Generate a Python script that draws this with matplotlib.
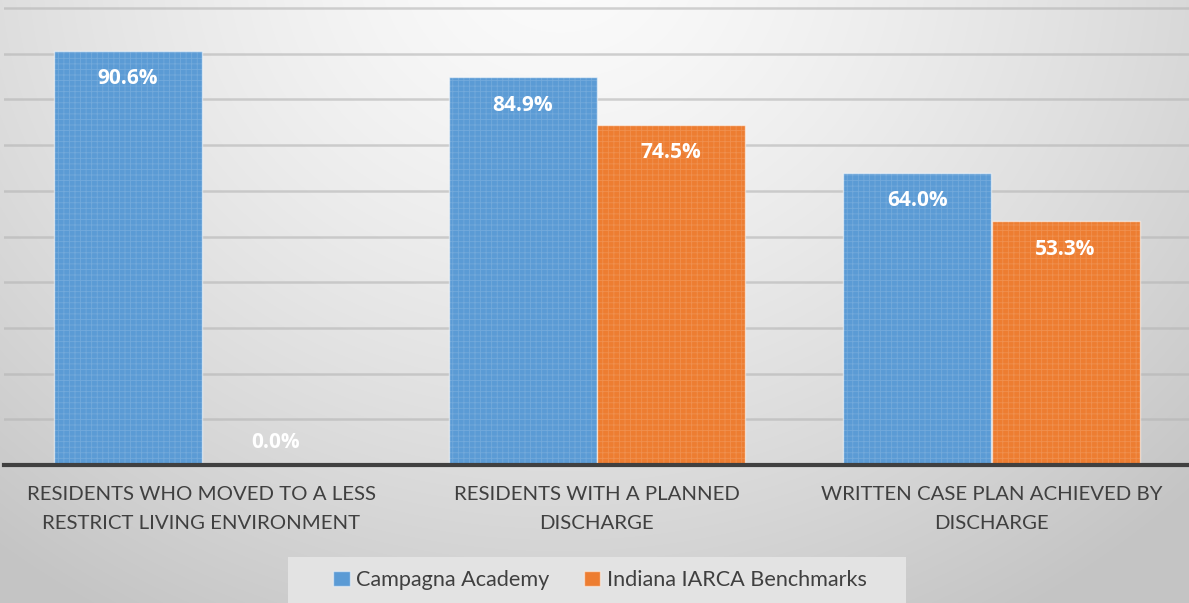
import numpy as np
import matplotlib
matplotlib.use("Agg")
import matplotlib.pyplot as plt
from matplotlib.patches import Rectangle

categories = ["RESIDENTS WHO MOVED TO A LESS\nRESTRICT LIVING ENVIRONMENT",
              "RESIDENTS WITH A PLANNED\nDISCHARGE",
              "WRITTEN CASE PLAN ACHIEVED BY\nDISCHARGE"]
series_names = ["Campagna Academy", "Indiana IARCA Benchmarks"]
campagna = [90.6, 84.9, 64.0]
iarca = [0.0, 74.5, 53.3]
colors = ["#5b9bd5", "#ed7d31"]

W, H = 1189, 603
fig = plt.figure(figsize=(W / 100, H / 100), dpi=100)

# background radial gradient
bg = fig.add_axes([0, 0, 1, 1], zorder=0)
yy, xx = np.mgrid[0:H, 0:W]
d = np.sqrt((xx - 560.0) ** 2 + ((yy + 40.0) * 1.15) ** 2)
val = 251 - 52 * np.clip(d / 850.0, 0, 1.3) ** 1.4
val = np.clip(val, 196, 252) / 255.0
img = np.dstack([val, val, val])
bg.imshow(img, aspect="auto", extent=[0, 1, 0, 1], origin="upper")
bg.set_axis_off()

ppu = (465 - 8) / 100.0
top_px = 8 - ppu * 1.0
ax = fig.add_axes([4 / W, (H - 465) / H, 1 - 4 / W, (465 - top_px) / H], zorder=1)
ax.patch.set_alpha(0)
ax.set_xlim(-0.5, 2.5)
ax.set_ylim(0, 101)

x = np.arange(len(categories))
bw = 148 / 395.0
plt.rcParams["hatch.linewidth"] = 0.6
for i, (vals, col) in enumerate(zip([campagna, iarca], colors)):
    pos = x + (i - 0.5) * bw
    ax.bar(pos, vals, width=bw, color=col, edgecolor=(1, 1, 1, 0.55), linewidth=1.0, zorder=3)
    ax.bar(pos, vals, width=bw, facecolor="none", edgecolor=(1, 1, 1, 0.15),
           linewidth=0, hatch="+++", zorder=4)
    for p, v in zip(pos, vals):
        off = -28 if v > 0 else 22
        ax.annotate(f"{v:.1f}%", (p, v), xytext=(0, off * 0.72), textcoords="offset points",
                    ha="center", va="center", color="white", fontsize=15,
                    fontweight="bold", family="Open Sans", zorder=5)

ax.set_yticks(np.arange(10, 101, 10))
ax.yaxis.grid(True, color="#b4b4b4", alpha=0.6, linewidth=1.8, zorder=1)
ax.tick_params(axis="y", left=False, labelleft=False)
ax.set_xticks(x)
ax.set_xticklabels(categories, fontsize=14.7, color="#404040", family="Lato", linespacing=1.85)
ax.tick_params(axis="x", length=0, pad=15)
for s in ["left", "right", "top"]:
    ax.spines[s].set_visible(False)
ax.spines["bottom"].set_color("#404040")
ax.spines["bottom"].set_linewidth(3)
ax.spines["bottom"].set_zorder(6)

# legend box
fig.add_artist(Rectangle((288 / W, 0), (906 - 288) / W, (H - 557) / H,
                         transform=fig.transFigure, facecolor=(0.89, 0.89, 0.89),
                         edgecolor="none", zorder=2))
handles = [Rectangle((0, 0), 1, 1, facecolor=c, edgecolor=(1, 1, 1, 0.5)) for c in colors]
leg = fig.legend(handles, series_names, loc="center", bbox_to_anchor=(600 / W, 1 - 580 / H),
                 ncol=2, frameon=False, handlelength=0.75, handleheight=0.75,
                 handletextpad=0.3, columnspacing=1.6, prop={"family": "Lato", "size": 15.6})
for t in leg.get_texts():
    t.set_color("#404040")
leg.set_zorder(3)

fig.savefig("out.png", dpi=100)
